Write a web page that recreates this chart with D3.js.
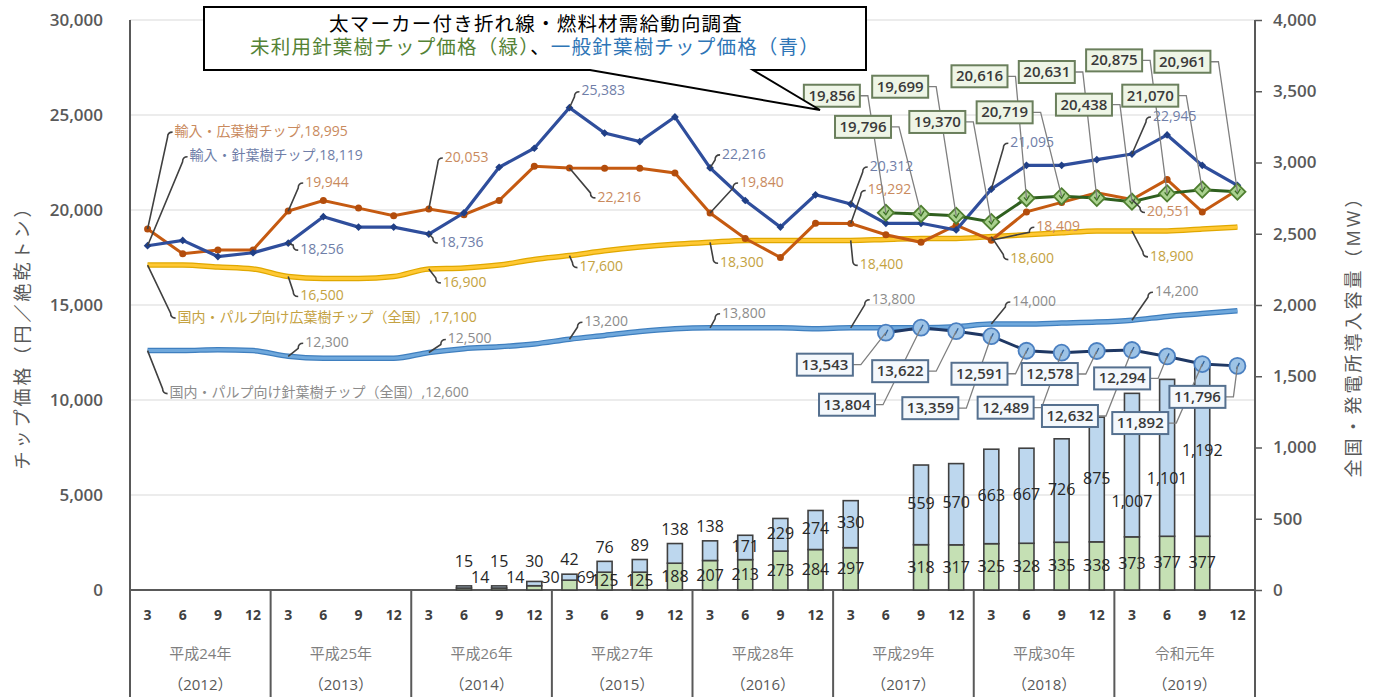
<!DOCTYPE html>
<html>
<head>
<meta charset="utf-8">
<style>
  body { margin: 0; background: #fff; }
  svg { display: block; font-family: "Open Sans", "Noto Sans CJK JP", sans-serif; }
</style>
</head>
<body>
<svg id="chart" width="1379" height="697"></svg>
<script src="https://cdn.jsdelivr.net/npm/d3@7/dist/d3.min.js"></script>
<script>
// --- data -------------------------------------------------------------
const eras = ["平成24年", "平成25年", "平成26年", "平成27年", "平成28年", "平成29年", "平成30年", "令和元年"];
const westernYears = ["2012", "2013", "2014", "2015", "2016", "2017", "2018", "2019"];
const months = ["3", "6", "9", "12"];

// 円/絶乾トン, quarterly 2012/3 .. 2019/12
const importHardwood = [18995, 17700, 17900, 17900, 19944, 20500, 20100, 19700, 20053, 19750, 20500, 22300,
  22216, 22200, 22200, 21950, 19840, 18500, 17500, 19300, 19292, 18700, 18300, 19200,
  18409, 19900, 20400, 20900, 20551, 21600, 19900, 21050];
const importSoftwood = [18119, 18400, 17550, 17750, 18256, 19650, 19100, 19100, 18736, 19850, 22250, 23250,
  25383, 24050, 23600, 24900, 22216, 20500, 19100, 20800, 20312, 19300, 19300, 18950,
  21095, 22350, 22350, 22650, 22945, 23950, 22350, 21300];
const pulpHardwood = [17100, 17100, 17000, 16900, 16500, 16400, 16400, 16500, 16900, 16950, 17100, 17400,
  17600, 17850, 18050, 18200, 18300, 18400, 18400, 18400, 18400, 18450, 18500, 18500,
  18600, 18700, 18800, 18900, 18900, 18900, 19000, 19100];
const pulpSoftwood = [12600, 12600, 12650, 12600, 12300, 12200, 12200, 12200, 12500, 12700, 12800, 12950,
  13200, 13400, 13600, 13750, 13800, 13800, 13800, 13750, 13800, 13800, 13800, 13850,
  14000, 14000, 14050, 14100, 14200, 14400, 14550, 14700];
const N = null;
const unusedSoftwood = [N, N, N, N, N, N, N, N, N, N, N, N, N, N, N, N, N, N, N, N, N,
  19856, 19796, 19699, 19370, 20616, 20719, 20631, 20438, 20875, 21070, 20961];
const generalSoftwood = [N, N, N, N, N, N, N, N, N, N, N, N, N, N, N, N, N, N, N, N, N,
  13543, 13804, 13622, 13359, 12591, 12489, 12578, 12632, 12294, 11892, 11796];

// MW, stacked bars
const capacityGreen = [N, N, N, N, N, N, N, N, N, 14, 14, 30, 69, 125, 125, 188, 207, 213, 273, 284, 297,
  N, 318, 317, 325, 328, 335, 338, 373, 377, 377, N];
const capacityBlue = [N, N, N, N, N, N, N, N, N, 15, 15, 30, 42, 76, 89, 138, 138, 171, 229, 274, 330,
  N, 559, 570, 663, 667, 726, 875, 1007, 1101, 1192, N];

const leftTicks = [0, 5000, 10000, 15000, 20000, 25000, 30000];
const rightTicks = [0, 500, 1000, 1500, 2000, 2500, 3000, 3500, 4000];

// --- label layout (offsets from the point) -----------------------------
const orangeNotes = [
  {i: 0, dx: 27, dy: -97, pre: "輸入・広葉樹チップ,"}, {i: 4, dx: 17, dy: -28}, {i: 8, dx: 16, dy: -51},
  {i: 12, dx: 28, dy: 30}, {i: 16, dx: 30, dy: -30}, {i: 20, dx: 17, dy: -33},
  {i: 24, dx: 45, dy: -13}, {i: 28, dx: 15, dy: 13}];
const navyNotes = [
  {i: 0, dx: 42, dy: -89, pre: "輸入・針葉樹チップ,"}, {i: 4, dx: 12, dy: 7}, {i: 8, dx: 11, dy: 9},
  {i: 12, dx: 12, dy: -16}, {i: 16, dx: 12, dy: -13}, {i: 20, dx: 19, dy: -37},
  {i: 24, dx: 19, dy: -46}, {i: 28, dx: 21, dy: -37}];
const yellowNotes = [
  {i: 0, dx: 30, dy: 53, pre: "国内・パルプ向け広葉樹チップ（全国）,"}, {i: 4, dx: 12, dy: 20}, {i: 8, dx: 14, dy: 14},
  {i: 12, dx: 10, dy: 12}, {i: 16, dx: 10, dy: 21}, {i: 20, dx: 9, dy: 25},
  {i: 24, dx: 19, dy: 23}, {i: 28, dx: 18, dy: 26}];
const skyNotes = [
  {i: 0, dx: 22, dy: 43, pre: "国内・パルプ向け針葉樹チップ（全国）,"}, {i: 4, dx: 17, dy: -13}, {i: 8, dx: 19, dy: -13},
  {i: 12, dx: 15, dy: -17}, {i: 16, dx: 12, dy: -14}, {i: 20, dx: 21, dy: -28},
  {i: 24, dx: 21, dy: -22}, {i: 28, dx: 23, dy: -28}];
const greenBoxDy = [-117, -87, -129, -100, -122, -84, -126, -97, -133, -94, -130];
const greenBoxDx = [-54, -58, -56, -54, -47, -57, -50, -48, -53, -52, -55];
const blueBoxDy = [32, 77, 40, 72, 23, 55, 23, 66, 22, 59, 31];
const blueBoxDx = [-61, -74, -56, -61, -47, -56, -47, -62, -45, -62, -40];

// --- scales -----------------------------------------------------------
const svg = d3.select("#chart");
const plotLeft = 130, plotRight = 1255, plotTop = 20, base = 590;
const x = d3.scaleBand().domain(d3.range(32)).range([plotLeft, plotRight]);
const cx = i => x(i) + x.bandwidth() / 2;
const yL = d3.scaleLinear().domain([0, 30000]).range([base, plotTop]);
const yR = d3.scaleLinear().domain([0, 4000]).range([base, plotTop]);
const fmt = d3.format(",");

// gridlines
svg.append("g").selectAll("line").data(leftTicks.slice(1)).join("line")
  .attr("x1", plotLeft).attr("x2", plotRight)
  .attr("y1", d => yL(d)).attr("y2", d => yL(d))
  .attr("stroke", "#d9d9d9").attr("stroke-width", 1.2);

// left axis
const gL = svg.append("g").attr("transform", `translate(${plotLeft},0)`)
  .call(d3.axisLeft(yL).tickValues(leftTicks).tickSize(0).tickPadding(27).tickFormat(fmt));
gL.select(".domain").remove();
gL.selectAll("text").attr("font-size", 17).attr("font-weight", 600).attr("fill", "#595959")
  .attr("font-family", '"Open Sans", sans-serif');
svg.append("line").attr("x1", plotLeft).attr("x2", plotLeft).attr("y1", plotTop).attr("y2", 697)
  .attr("stroke", "#595959").attr("stroke-width", 2);

// right axis
const gR = svg.append("g").attr("transform", `translate(${plotRight},0)`)
  .call(d3.axisRight(yR).tickValues(rightTicks).tickSize(7).tickPadding(11).tickFormat(fmt));
gR.select(".domain").remove();
gR.selectAll("line").attr("stroke", "#595959").attr("stroke-width", 1.5);
gR.selectAll("text").attr("font-size", 17).attr("font-weight", 600).attr("fill", "#595959")
  .attr("font-family", '"Open Sans", sans-serif');
svg.append("line").attr("x1", plotRight).attr("x2", plotRight).attr("y1", plotTop).attr("y2", 697)
  .attr("stroke", "#595959").attr("stroke-width", 2);

// axis titles
svg.append("text").attr("transform", "translate(24,333) rotate(-90)")
  .attr("text-anchor", "middle").attr("dominant-baseline", "middle").attr("letter-spacing", 3)
  .attr("font-size", 18).attr("fill", "#595959").text("チップ価格（円／絶乾トン）");
svg.append("text").attr("transform", "translate(1355,332) rotate(-90)")
  .attr("text-anchor", "middle").attr("dominant-baseline", "middle").attr("letter-spacing", 3)
  .attr("font-size", 18).attr("fill", "#595959").text("全国・発電所導入容量（MW）");

// bottom category axis
svg.append("line").attr("x1", plotLeft).attr("x2", plotRight).attr("y1", base).attr("y2", base)
  .attr("stroke", "#595959").attr("stroke-width", 2);
svg.append("g").selectAll("text").data(d3.range(32)).join("text")
  .attr("x", d => cx(d)).attr("y", 616).attr("text-anchor", "middle").attr("dominant-baseline", "middle")
  .attr("font-size", 14).attr("font-weight", 700).attr("fill", "#404040")
  .text(d => months[d % 4]);
const yearEdge = k => k < 8 ? x(k * 4) : plotRight;
svg.append("g").selectAll("line").data(d3.range(9)).join("line")
  .attr("x1", d => yearEdge(d)).attr("x2", d => yearEdge(d))
  .attr("y1", base).attr("y2", 697)
  .attr("stroke", "#595959").attr("stroke-width", 2);
svg.append("g").selectAll("text").data(eras).join("text")
  .attr("x", (d, k) => (yearEdge(k) + yearEdge(k + 1)) / 2).attr("y", 655)
  .attr("text-anchor", "middle").attr("dominant-baseline", "middle")
  .attr("font-size", 15).attr("fill", "#7f7f7f").text(d => d);
svg.append("g").selectAll("text").data(westernYears).join("text")
  .attr("x", (d, k) => (yearEdge(k) + yearEdge(k + 1)) / 2).attr("y", 686)
  .attr("text-anchor", "middle").attr("dominant-baseline", "middle")
  .attr("font-size", 15).attr("fill", "#595959").text(d => "（" + d + "）");

// --- bars -------------------------------------------------------------
const bars = d3.range(32).filter(i => capacityGreen[i] != null)
  .map(i => ({i, g: capacityGreen[i], b: capacityBlue[i]}));
const bw = 15;
const gBars = svg.append("g");
gBars.selectAll("rect.green").data(bars).join("rect").attr("class", "green")
  .attr("x", d => cx(d.i) - bw / 2).attr("width", bw)
  .attr("y", d => yR(d.g)).attr("height", d => base - yR(d.g))
  .attr("fill", "#c5e0b4").attr("stroke", "#404040").attr("stroke-width", 1.6);
gBars.selectAll("rect.blue").data(bars).join("rect").attr("class", "blue")
  .attr("x", d => cx(d.i) - bw / 2).attr("width", bw)
  .attr("y", d => yR(d.g + d.b)).attr("height", d => yR(d.g) - yR(d.g + d.b))
  .attr("fill", "#bdd7ee").attr("stroke", "#404040").attr("stroke-width", 1.6);

// --- lines ------------------------------------------------------------
const pts = arr => arr.map((v, i) => ({i, v})).filter(d => d.v != null);
const line = d3.line().x(d => cx(d.i)).y(d => yL(d.v));
const smooth = d3.line().x(d => cx(d.i)).y(d => yL(d.v)).curve(d3.curveMonotoneX);

svg.append("path").attr("d", smooth(pts(pulpSoftwood))).attr("fill", "none")
  .attr("stroke", "#3f7fbf").attr("stroke-width", 5.5);
svg.append("path").attr("d", smooth(pts(pulpSoftwood))).attr("fill", "none")
  .attr("stroke", "#6fa8dc").attr("stroke-width", 3);
svg.append("path").attr("d", smooth(pts(pulpHardwood))).attr("fill", "none")
  .attr("stroke", "#e0a800").attr("stroke-width", 5.5);
svg.append("path").attr("d", smooth(pts(pulpHardwood))).attr("fill", "none")
  .attr("stroke", "#ffc834").attr("stroke-width", 3);

svg.append("path").attr("d", line(pts(importHardwood))).attr("fill", "none")
  .attr("stroke", "#c55a11").attr("stroke-width", 3);
svg.append("g").selectAll("circle").data(pts(importHardwood)).join("circle")
  .attr("cx", d => cx(d.i)).attr("cy", d => yL(d.v)).attr("r", 3.5).attr("fill", "#b34d0c");

svg.append("path").attr("d", line(pts(importSoftwood))).attr("fill", "none")
  .attr("stroke", "#2f4e9c").attr("stroke-width", 3.2);
svg.append("g").selectAll("path").data(pts(importSoftwood)).join("path")
  .attr("transform", d => `translate(${cx(d.i)},${yL(d.v)}) rotate(45)`)
  .attr("d", d3.symbol(d3.symbolSquare, 30)()).attr("fill", "#203f86");

// green marker line
svg.append("path").attr("d", line(pts(unusedSoftwood))).attr("fill", "none")
  .attr("stroke", "#2f5f1f").attr("stroke-width", 3);
const gMarks = svg.append("g").selectAll("g").data(pts(unusedSoftwood)).join("g")
  .attr("transform", d => `translate(${cx(d.i)},${yL(d.v)})`);
gMarks.append("path").attr("transform", "rotate(45)").attr("d", d3.symbol(d3.symbolSquare, 130)())
  .attr("fill", "#a9d18e").attr("stroke", "#4f7f30").attr("stroke-width", 1.8);
gMarks.append("path").attr("d", "M-2.5,-1 L0,2 L3,-3").attr("fill", "none")
  .attr("stroke", "#3c6e25").attr("stroke-width", 1.3);

// blue marker line
svg.append("path").attr("d", line(pts(generalSoftwood))).attr("fill", "none")
  .attr("stroke", "#1f3864").attr("stroke-width", 3);
const bMarks = svg.append("g").selectAll("g").data(pts(generalSoftwood)).join("g")
  .attr("transform", d => `translate(${cx(d.i)},${yL(d.v)})`);
bMarks.append("circle").attr("r", 8).attr("fill", "#9dc3e6")
  .attr("stroke", "#4a7fc0").attr("stroke-width", 1.8);
bMarks.append("path").attr("d", "M-1,3 L2,-3").attr("fill", "none")
  .attr("stroke", "#2e5f99").attr("stroke-width", 1.3);

// --- bar labels -------------------------------------------------------
const nudgeBlue = {28: 38, 29: 22};
const gBL = svg.append("g").attr("font-size", 16).attr("fill", "#262626");
bars.forEach(d => {
  const gTop = yR(d.g), bTop = yR(d.g + d.b);
  const px = cx(d.i);
  if (base - gTop < 12) {
    gBL.append("text").attr("x", px + 7).attr("y", 579).attr("dominant-baseline", "middle").text(fmt(d.g));
  } else {
    gBL.append("text").attr("x", px).attr("y", (base + gTop) / 2 + 1).attr("text-anchor", "middle")
      .attr("dominant-baseline", "middle").text(fmt(d.g));
  }
  if (gTop - bTop < 20) {
    gBL.append("text").attr("x", px).attr("y", Math.min(bTop - 13, 563)).attr("text-anchor", "middle")
      .attr("dominant-baseline", "middle").text(fmt(d.b));
  } else {
    gBL.append("text").attr("x", px).attr("y", (gTop + bTop) / 2 + (nudgeBlue[d.i] || 0))
      .attr("text-anchor", "middle").attr("dominant-baseline", "middle").text(fmt(d.b));
  }
});

// --- line annotations -------------------------------------------------
function notes(arr, notesArr, color) {
  const g = svg.append("g");
  notesArr.forEach(n => {
    const px = cx(n.i), py = yL(arr[n.i]);
    const lx = px + n.dx, ly = py + n.dy;
    const s = py > ly ? 1 : -1;
    g.append("path")
      .attr("d", `M${px},${py} L${lx - 7},${ly + s * 5} Q${lx - 7},${ly} ${lx - 2},${ly}`)
      .attr("fill", "none").attr("stroke", "#404040").attr("stroke-width", 1.6);
    g.append("text").attr("x", lx).attr("y", ly).attr("dominant-baseline", "middle")
      .attr("font-size", 14).attr("fill", color)
      .text((n.pre || "") + fmt(arr[n.i]));
  });
}
notes(pulpSoftwood, skyNotes, "#8c8c8c");
notes(pulpHardwood, yellowNotes, "#c4a242");
notes(importHardwood, orangeNotes, "#c98a5e");
notes(importSoftwood, navyNotes, "#6f7ea8");

// --- boxed labels for the survey lines -------------------------------
function boxes(arr, dxs, dys, fill, stroke) {
  const g = svg.append("g");
  pts(arr).forEach((d, k) => {
    const px = cx(d.i), py = yL(d.v);
    const bx = px + dxs[k], by = py + dys[k];
    const w = 56, h = 22;
    g.append("path")
      .attr("d", `M${bx + w / 2},${by} L${bx + w / 2 + 8},${by} L${px},${py}`)
      .attr("fill", "none").attr("stroke", "#7f7f7f").attr("stroke-width", 1.3);
    g.append("rect").attr("x", bx - w / 2).attr("y", by - h / 2).attr("width", w).attr("height", h)
      .attr("fill", fill).attr("stroke", stroke).attr("stroke-width", 2);
    g.append("text").attr("x", bx).attr("y", by + 1).attr("text-anchor", "middle")
      .attr("dominant-baseline", "middle").attr("font-size", 15).attr("font-weight", 600)
      .attr("fill", "#3a3a3a").text(fmt(d.v));
  });
}
boxes(generalSoftwood, blueBoxDx, blueBoxDy, "#f4f8fc", "#55708f");
boxes(unusedSoftwood, greenBoxDx, greenBoxDy, "#eef5e6", "#6a7f5c");

// --- callout ----------------------------------------------------------
svg.append("path")
  .attr("d", "M204,7 H866 V70 H753 L820,110 L590,70 H204 Z")
  .attr("fill", "#fff").attr("stroke", "#000").attr("stroke-width", 2);
const fontJP = '"Noto Sans CJK JP", sans-serif';
svg.append("text").attr("x", 536).attr("y", 26).attr("text-anchor", "middle")
  .attr("dominant-baseline", "middle").attr("font-size", 19.5).attr("letter-spacing", 1.2)
  .attr("font-family", fontJP)
  .attr("fill", "#000").text("太マーカー付き折れ線・燃料材需給動向調査");
const t2 = svg.append("text").attr("x", 535).attr("y", 49).attr("text-anchor", "middle")
  .attr("dominant-baseline", "middle").attr("font-size", 19.5).attr("letter-spacing", 1.2)
  .attr("font-family", fontJP);
t2.append("tspan").attr("fill", "#548235").text("未利用針葉樹チップ価格（緑）");
t2.append("tspan").attr("fill", "#000").text("、");
t2.append("tspan").attr("fill", "#2e75b6").text("一般針葉樹チップ価格（青）");
</script>
</body>
</html>
